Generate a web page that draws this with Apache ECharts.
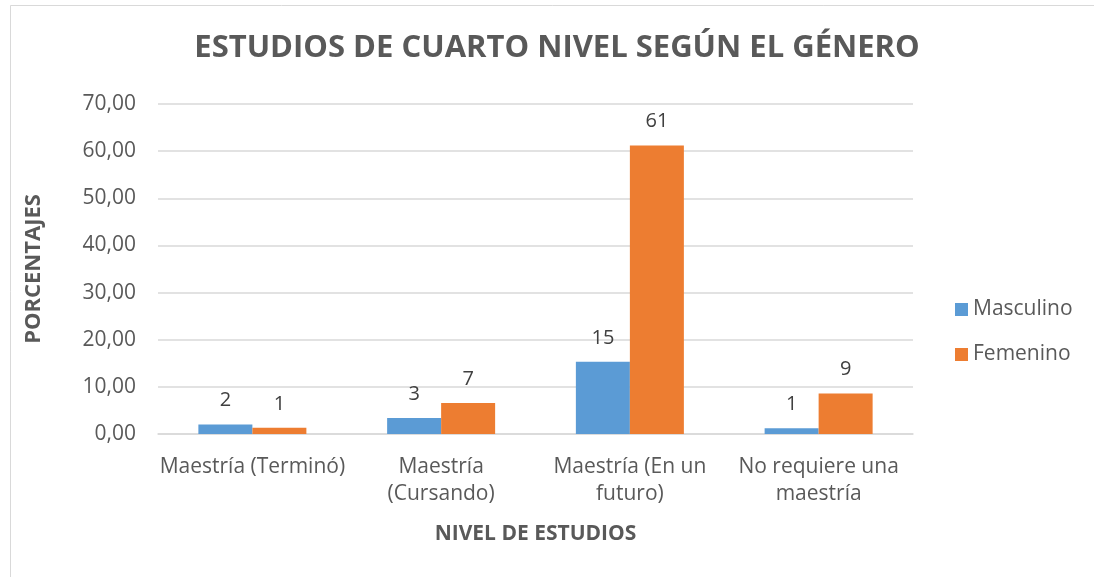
<!DOCTYPE html>
<html>
<head>
<meta charset="utf-8">
<script src="https://cdn.jsdelivr.net/npm/echarts@6/dist/echarts.min.js"></script>
<style>
  html, body { margin: 0; padding: 0; background: #fff; }
  #chart { width: 1094px; height: 577px; }
</style>
</head>
<body>
<div id="chart"></div>
<script>
  // data
  let categories = ['Maestría (Terminó)', 'Maestría\n(Cursando)', 'Maestría (En un\nfuturo)', 'No requiere una\nmaestría'];
  let masculino = [2.0, 3.4, 15.3, 1.2];
  let femenino = [1.3, 6.6, 61.2, 8.6];
  let yTicks = [0, 10, 20, 30, 40, 50, 60, 70];

  let font = '"Open Sans", sans-serif';
  let chart = echarts.init(document.getElementById('chart'));

  let labelStyle = {
    show: true,
    position: 'top',
    distance: 14,
    color: '#404040',
    fontSize: 20,
    fontFamily: font,
    formatter: function (p) { return Math.round(p.value); }
  };

  let option = {
    backgroundColor: '#fff',
    animation: false,
    title: {
      text: 'ESTUDIOS DE CUARTO NIVEL SEGÚN EL GÉNERO',
      left: 552,
      textAlign: 'center',
      top: 28,
      textStyle: { color: '#595959', fontSize: 31, fontWeight: 'bold', fontFamily: font }
    },
    graphic: [{
      type: 'rect',
      shape: { x: 10.5, y: 5.5, width: 1100, height: 600 },
      style: { fill: 'none', stroke: '#d9d9d9', lineWidth: 1 },
      silent: true
    }],
    legend: {
      data: ['Masculino', 'Femenino'],
      orient: 'vertical',
      left: 950,
      top: 294,
      itemWidth: 13,
      itemHeight: 13,
      itemGap: 24,
      icon: 'rect',
      textStyle: { color: '#595959', fontSize: 21, fontFamily: font }
    },
    grid: { left: 158, right: 181, top: 104, bottom: 143 },
    xAxis: {
      type: 'category',
      data: categories,
      name: 'NIVEL DE ESTUDIOS',
      nameLocation: 'middle',
      nameGap: 90,
      nameTextStyle: { color: '#595959', fontSize: 21, fontWeight: 'bold', fontFamily: font },
      axisLine: { lineStyle: { color: '#d9d9d9', width: 1.5 } },
      axisTick: { show: false },
      axisLabel: { color: '#595959', fontSize: 21, fontFamily: font, margin: 20, lineHeight: 27, interval: 0 }
    },
    yAxis: {
      type: 'value',
      min: yTicks[0],
      max: yTicks[yTicks.length - 1],
      interval: 10,
      name: 'PORCENTAJES',
      nameLocation: 'middle',
      nameGap: 113,
      nameTextStyle: { color: '#595959', fontSize: 22, fontWeight: 'bold', fontFamily: font },
      axisLine: { show: false },
      axisTick: { show: false },
      axisLabel: {
        color: '#595959', fontSize: 21, fontFamily: font, margin: 22,
        formatter: function (v) { return v.toFixed(2).replace('.', ','); }
      },
      splitLine: { lineStyle: { color: '#d9d9d9', width: 1.5 } }
    },
    series: [
      {
        name: 'Masculino',
        type: 'bar',
        data: masculino,
        barWidth: 54,
        barGap: '0%',
        itemStyle: { color: '#5b9bd5' },
        label: labelStyle
      },
      {
        name: 'Femenino',
        type: 'bar',
        data: femenino,
        barWidth: 54,
        barGap: '0%',
        itemStyle: { color: '#ed7d31' },
        label: labelStyle
      }
    ]
  };

  chart.setOption(option);
</script>
</body>
</html>
